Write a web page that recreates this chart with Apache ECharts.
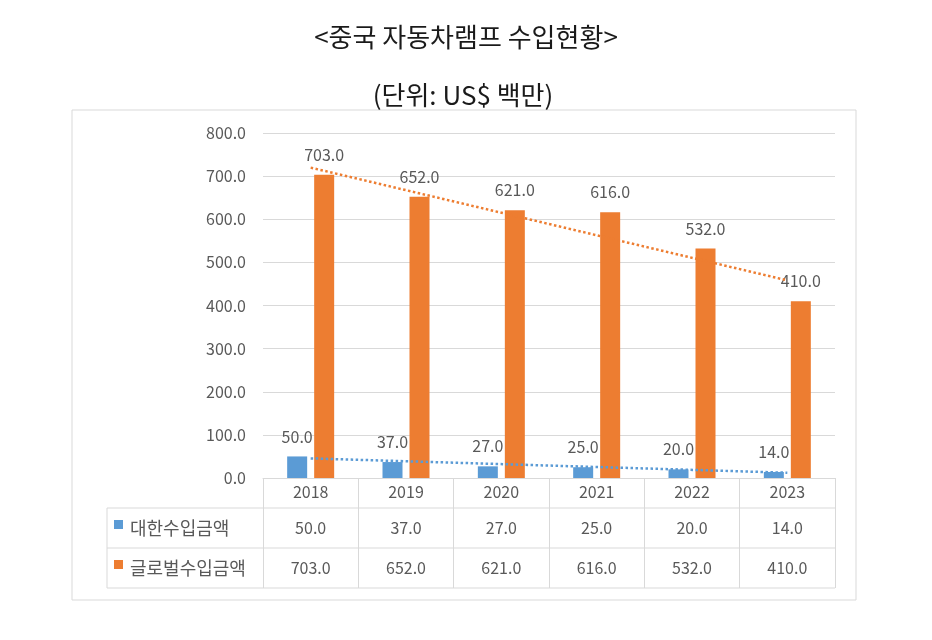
<!DOCTYPE html>
<html>
<head>
<meta charset="utf-8">
<script src="https://cdn.jsdelivr.net/npm/echarts@6/dist/echarts.min.js"></script>
<style>
  html, body { margin: 0; padding: 0; background: #fff; }
  #chart { width: 932px; height: 640px; }
</style>
</head>
<body>
<div id="chart"></div>
<script>
// 데이터
var years = ['2018', '2019', '2020', '2021', '2022', '2023'];
var koreaImports = [50, 37, 27, 25, 20, 14];
var globalImports = [703, 652, 621, 616, 532, 410];
// 추세선 양 끝값
var koreaTrend = [45.5, null, null, null, null, 12.2];
var globalTrend = [719.7, null, null, null, null, 458.3];
var seriesNames = ['대한수입금액', '글로벌수입금액'];
var colors = ['#5B9BD5', '#ED7D31'];
var titleText = '<중국 자동차램프 수입현황>';
var unitText = '(단위: US$ 백만)';

var FONT = '"Noto Sans CJK KR", "Noto Sans", sans-serif';
var GRAY = '#595959';
var LINE = '#d9d9d9';

var myChart = echarts.init(document.getElementById('chart'));

function fmt(v) { return Number(v).toFixed(1); }

var barLabel = {
    show: true, position: 'top', distance: 12, color: GRAY, fontSize: 16,
    formatter: function (p) { return fmt(p.value); }
};

var option = {
    animation: false,
    textStyle: { fontFamily: FONT },
    grid: { left: 263, right: 97, top: 133, bottom: 162 },
    xAxis: {
        type: 'category',
        data: years,
        axisLine: { lineStyle: { color: LINE, width: 1 } },
        axisTick: { show: true, interval: 0, length: 110, lineStyle: { color: LINE } },
        axisLabel: { color: GRAY, fontSize: 16, margin: 6, fontFamily: FONT }
    },
    yAxis: {
        type: 'value',
        min: 0,
        max: 800,
        interval: 100,
        axisLine: { show: false },
        axisTick: { show: false },
        axisLabel: { color: GRAY, fontSize: 16, margin: 17, formatter: fmt, fontFamily: FONT },
        splitLine: { lineStyle: { color: LINE, width: 1 } }
    },
    series: [
        {
            name: seriesNames[0],
            type: 'bar',
            data: koreaImports,
            barWidth: 20,
            barGap: '35%',
            itemStyle: { color: colors[0] },
            label: barLabel
        },
        {
            name: seriesNames[1],
            type: 'bar',
            data: globalImports,
            barWidth: 20,
            itemStyle: { color: colors[1] },
            label: barLabel
        },
        {
            type: 'line',
            data: koreaTrend,
            connectNulls: true,
            showSymbol: false,
            silent: true,
            z: 5,
            lineStyle: { color: colors[0], width: 2.5, type: [2.5, 2.5] }
        },
        {
            type: 'line',
            data: globalTrend,
            connectNulls: true,
            showSymbol: false,
            silent: true,
            z: 5,
            lineStyle: { color: colors[1], width: 2.5, type: [2.5, 2.5] }
        }
    ]
};
myChart.setOption(option);

// 표(데이터 테이블) 그리기
var colW = (932 - 97 - 263) / years.length;
var tableLeft = 107, tableRight = 263 + colW * years.length;
var rowLines = [508, 548, 588];
var rows = [koreaImports, globalImports];
var g = [];

g.push({ type: 'rect', shape: { x: 72, y: 110, width: 784, height: 490 }, style: { fill: 'none', stroke: LINE, lineWidth: 1 }, z: 0 });
g.push({ type: 'text', style: { text: titleText, x: 466, y: 37, align: 'center', verticalAlign: 'middle', font: '26px ' + FONT, fill: '#1a1a1a' } });
g.push({ type: 'text', style: { text: unitText, x: 463, y: 95, align: 'center', verticalAlign: 'middle', font: '26px ' + FONT, fill: '#1a1a1a' } });

rowLines.forEach(function (y) {
    g.push({ type: 'line', shape: { x1: tableLeft, y1: y, x2: tableRight, y2: y }, style: { stroke: LINE, lineWidth: 1 } });
});
g.push({ type: 'line', shape: { x1: tableLeft, y1: rowLines[0], x2: tableLeft, y2: rowLines[2] }, style: { stroke: LINE, lineWidth: 1 } });

rows.forEach(function (vals, r) {
    var cy = (rowLines[r] + rowLines[r + 1]) / 2;
    g.push({ type: 'rect', shape: { x: 114, y: cy - 8, width: 9, height: 9 }, style: { fill: colors[r] } });
    g.push({ type: 'text', style: { text: seriesNames[r], x: 130, y: cy, verticalAlign: 'middle', font: '18px ' + FONT, fill: GRAY } });
    vals.forEach(function (v, i) {
        var cx = myChart.convertToPixel({ xAxisIndex: 0 }, years[i]);
        g.push({ type: 'text', style: { text: fmt(v), x: cx, y: cy, align: 'center', verticalAlign: 'middle', font: '16px ' + FONT, fill: GRAY } });
    });
});

myChart.setOption({ graphic: g });
</script>
</body>
</html>
